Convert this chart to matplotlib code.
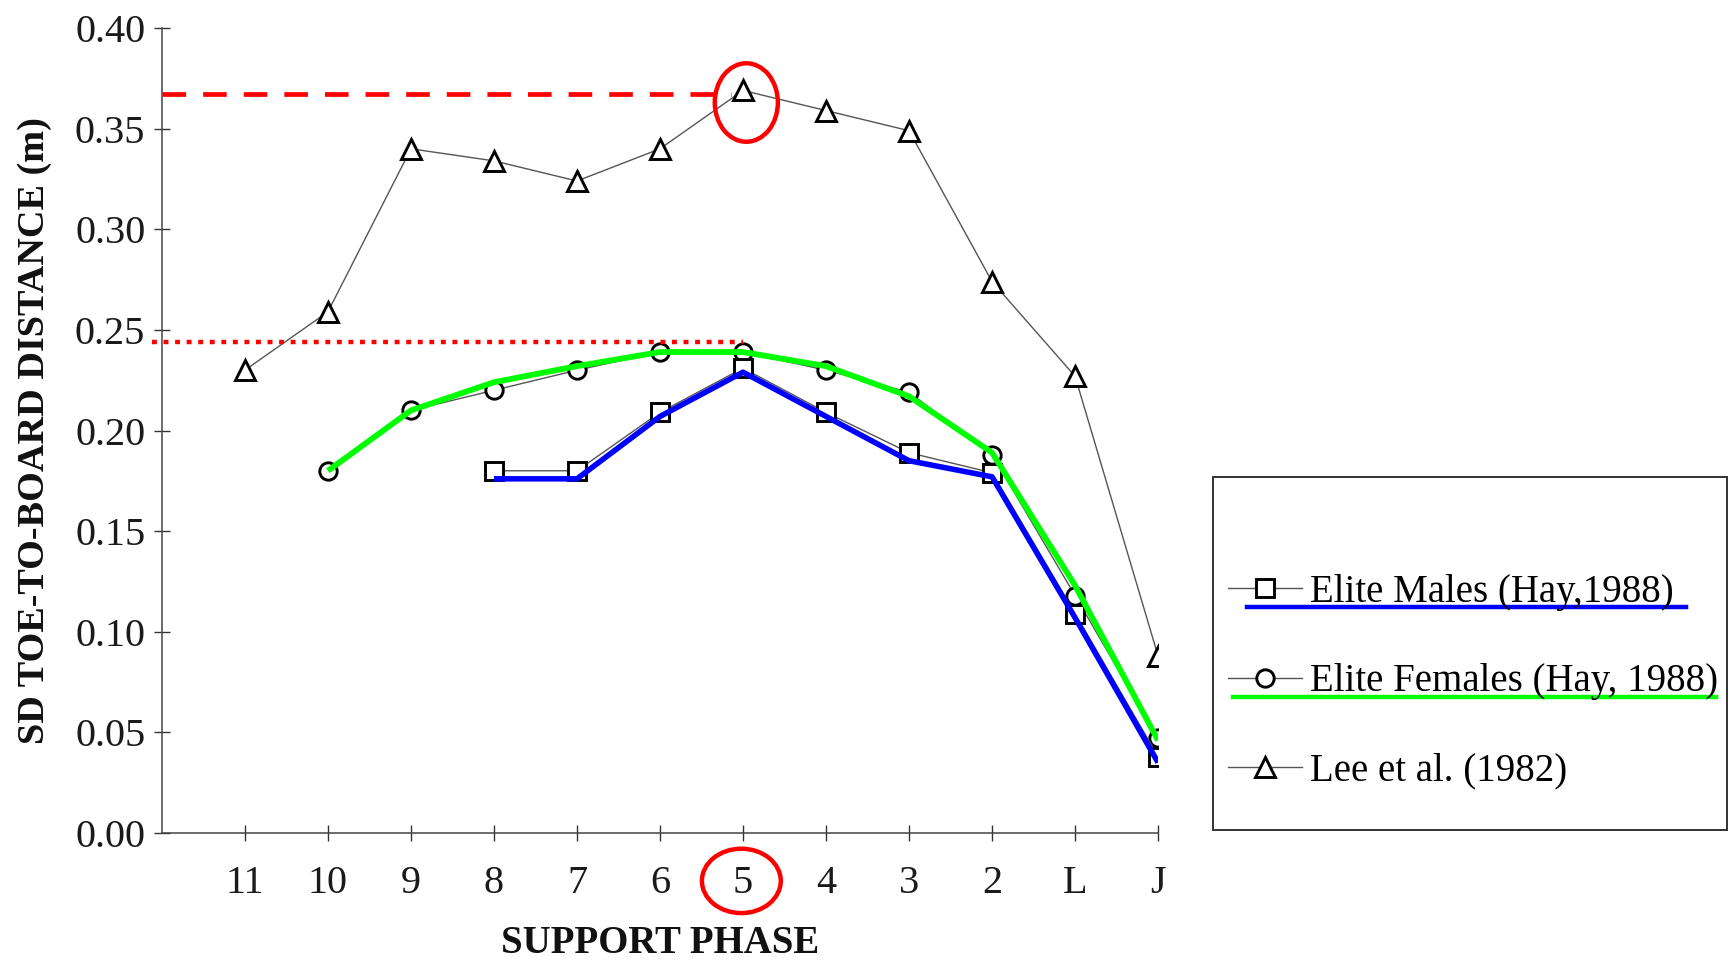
import matplotlib
matplotlib.use('Agg')
import matplotlib.pyplot as plt
from matplotlib.patches import Ellipse, Rectangle
from matplotlib.lines import Line2D

# ---------------- data ----------------
phases = ['11', '10', '9', '8', '7', '6', '5', '4', '3', '2', 'L', 'J']
lee_values = [0.230, 0.259, 0.340, 0.334, 0.324, 0.340, 0.369, 0.359, 0.349, 0.274, 0.227, 0.088]
female_phases = ['10', '9', '8', '7', '6', '5', '4', '3', '2', 'L', 'J']
female_values = [0.180, 0.210, 0.220, 0.230, 0.239, 0.239, 0.230, 0.219, 0.188, 0.118, 0.047]
male_phases = ['8', '7', '6', '5', '4', '3', '2', 'L', 'J']
male_values = [0.180, 0.180, 0.209, 0.231, 0.209, 0.189, 0.179, 0.109, 0.038]
# hand-drawn highlight overlays
green_overlay = [0.180, 0.210, 0.224, 0.232, 0.239, 0.239, 0.232, 0.217, 0.189, 0.123, 0.046]
blue_overlay = [0.176, 0.176, 0.207, 0.229, 0.207, 0.185, 0.177, 0.107, 0.035]
peak_ref = 0.367
female_peak_ref = 0.244
highlight_phase = '5'
yticks = [0.00, 0.05, 0.10, 0.15, 0.20, 0.25, 0.30, 0.35, 0.40]
labels = ['Elite Males (Hay,1988)', 'Elite Females (Hay, 1988)', 'Lee et al. (1982)']

pos = {p: i + 1 for i, p in enumerate(phases)}
serif = ['Liberation Serif', 'DejaVu Serif']
plt.rcParams['font.family'] = serif

fig = plt.figure(figsize=(17.30, 9.61), dpi=100)
ax = fig.add_axes([0.0936, 0.1332, 0.5758, 0.8376])

line_kw = dict(color='#555555', lw=1.0, mfc='white', mec='black', mew=2.1)
ax.plot([pos[p] for p in phases], lee_values, marker='^', ms=15, zorder=3, **line_kw)
ax.plot([pos[p] for p in female_phases], female_values, marker='o', ms=12.5, zorder=3, **line_kw)
ax.plot([pos[p] for p in male_phases], male_values, marker='s', ms=13.5, zorder=3, **line_kw)

ax.plot([pos[p] for p in female_phases], green_overlay, color='#00ff00', lw=4.2, zorder=4,
        solid_capstyle='butt')
ax.plot([pos[p] for p in male_phases], blue_overlay, color='#0000ff', lw=4.0, zorder=4,
        solid_capstyle='butt')

hp = pos[highlight_phase]
ax.plot([0, hp - 0.15], [peak_ref, peak_ref], color='#ff0000', lw=3.4,
        dashes=(5.0, 3.6), clip_on=False, zorder=5)
ax.plot([-0.12, hp], [female_peak_ref, female_peak_ref], color='#ff0000', lw=3.2,
        dashes=(1.1, 1.5), clip_on=False, zorder=5)
ax.add_patch(Ellipse((hp + 0.04, 0.363), 0.76, 0.039, fill=False, ec='#ff0000', lw=3.2,
                     zorder=6, clip_on=False))
ax.add_patch(Ellipse((hp - 0.02, -0.0238), 0.95, 0.032, fill=False, ec='#ff0000', lw=3.2,
                     zorder=6, clip_on=False))

ax.set_xlim(0, 12)
ax.set_ylim(0, 0.40)
ax.set_xticks([pos[p] for p in phases])
ax.set_xticklabels(phases)
ax.set_yticks(yticks)
ax.set_yticklabels([f'{v:.2f}' for v in yticks])
ax.tick_params(axis='both', direction='inout', length=12, width=1.0, colors='#333333',
               labelsize=29, labelcolor='#1a1a1a')
ax.tick_params(axis='x', pad=17)
ax.tick_params(axis='y', pad=6)
for s in ['top', 'right']:
    ax.spines[s].set_visible(False)
for s in ['left', 'bottom']:
    ax.spines[s].set_color('#444444')
    ax.spines[s].set_linewidth(1.1)

ax.set_xlabel('SUPPORT PHASE', fontsize=28, fontweight='bold', color='#111111')
ax.xaxis.label.set_va('center')
ax.xaxis.set_label_coords(0.5, -0.137)
ax.set_ylabel('SD TOE-TO-BOARD DISTANCE (m)', fontsize=27.5, fontweight='bold', color='#111111')
ax.yaxis.label.set_va('center')
ax.yaxis.set_label_coords(-0.128, 0.5)

# legend box
fig.patches.append(Rectangle((0.701, 0.1363), 0.297, 0.367, transform=fig.transFigure,
                             fill=False, ec='#333333', lw=1.4))
handles = [
    Line2D([], [], marker='s', ms=13.5, **line_kw),
    Line2D([], [], marker='o', ms=12.5, **line_kw),
    Line2D([], [], marker='^', ms=15, **line_kw),
]
fig.legend(handles, labels, loc='upper left', bbox_to_anchor=(0.710, 0.403), frameon=False,
           fontsize=28, handlelength=1.9, handletextpad=0.2, labelspacing=1.35,
           borderpad=0, borderaxespad=0)
fig.add_artist(Line2D([0.7208, 0.9746], [0.3684, 0.3684], transform=fig.transFigure,
                      color='#0000ff', lw=3.2))
fig.add_artist(Line2D([0.7127, 0.9919], [0.2747, 0.2747], transform=fig.transFigure,
                      color='#00ff00', lw=3.2))

fig.savefig('out.png', dpi=100)
